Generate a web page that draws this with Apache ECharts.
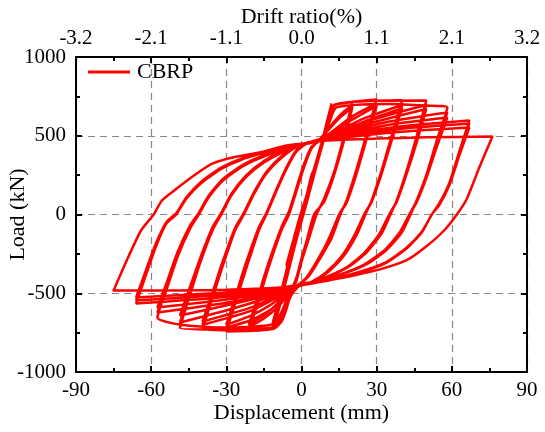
<!DOCTYPE html>
<html>
<head>
<meta charset="utf-8">
<script src="https://cdn.jsdelivr.net/npm/echarts@6/dist/echarts.min.js"></script>
<style>
html, body { margin: 0; padding: 0; background: #fff; }
#main { width: 545px; height: 432px; }
</style>
</head>
<body>
<div id="main"></div>
<script>
// displacement (mm), load (kN), cycle by cycle
var loop03 = [[0,0],[1.5,80],[3,150],[1.5,60],[0,-20],[-1.5,-90],[-3,-150],[-1.5,-60],[0,20],[1.5,90],[3,145],[1,40],[-1,-60],[-3,-145],[-1,-40],[0,10]];
var loop06 = [[2,110],[4,240],[6,330],[4,230],[2,100],[0,-20],[-2,-130],[-4,-250],[-6,-330],[-4,-220],[-2,-100],[0,20],[2,120],[4,250],[6,320],[3,170],[0,-10],[-3,-180],[-6,-320],[-3,-150],[0,0]];
var loop12 = [
  [3,150],[6,320],[8,430],[10,560],[12,705],[10,580],[7,380],[4,190],[1,30],[-1,-60],[-3,-200],[-5,-340],[-7,-470],[-9,-600],[-11.5,-720],
  [-9,-560],[-6,-360],[-3,-170],[0,0],[3,160],[6,330],[8,450],
  [10,560],[12,690],[9,500],[6,310],[3,130],[0,-40],[-3,-220],[-6,-410],[-9,-590],[-11.5,-705],
  [-8,-500],[-5,-300],[-2,-110],[1,60],[4,230],[7,400],
  [10,560],[12,675],[9,480],[5,250],[2,70],[-1,-100],[-4,-280],[-7,-460],[-9.5,-600],[-11.5,-690],
  [-8,-480],[-4,-230],[-1,-50],[2,110],[5,290],[8,440]
];
var loop20 = [
  [9,480],[11,590],[13,690],[16,705],[20.3,715],[17,500],[13,270],[9,100],[6,0],[3,-150],[0,-300],[-2,-420],[-4,-490],[-6,-600],[-8,-680],[-11,-725],[-16,-735],[-21,-740],
  [-17,-540],[-13,-330],[-8,-100],[-5,0],[-2,150],[1,300],[4,420],[7,470],
  [12,570],[16,640],[20.3,695],[17,480],[13,260],[9,90],[5.5,0],[3,-140],[0,-290],[-2,-410],[-4,-480],[-9,-580],[-15,-660],[-21,-715],
  [-17,-520],[-13,-310],[-8,-90],[-5,10],[-2,160],[1,310],[4,425],[7,470],
  [12,560],[16,625],[20.3,680],[17,470],[13,250],[9,80],[5,0],[2,-170],[0,-280],[-2,-400],[-4,-470],[-10,-570],[-15,-640],[-21,-700],
  [-17,-500],[-13,-300],[-8,-80],[-5,20],[-2,170],[1,320],[4,430],[8,475]
];
var loop30 = [
  [9,490],[11,590],[13,690],[20,715],[30,730],[26,510],[22,290],[18,90],[15.5,0],[12,-150],[7,-290],[3,-390],[-1,-450],
  [-4,-510],[-7,-620],[-10,-700],[-13,-728],[-20,-738],[-30,-743],
  [-26,-540],[-22,-340],[-17,-100],[-14,0],[-10,150],[-6,290],[-2,400],[2,450],[6,470],
  [10,500],[20,620],[30,705],[26,490],[22,270],[18,80],[15,0],[11,-150],[7,-280],[3,-385],[-1,-450],
  [-5,-500],[-12,-600],[-20,-670],[-30,-718],
  [-26,-520],[-22,-320],[-17,-90],[-14,5],[-10,155],[-6,295],[-2,405],[2,452],[6,470],
  [10,495],[20,600],[30,690],[26,480],[22,260],[18,75],[15,0],[11,-155],[6,-300],[2,-400],[-2,-455],
  [-6,-500],[-13,-580],[-20,-640],[-30,-700],
  [-26,-500],[-22,-300],[-17,-80],[-14,10],[-10,160],[-6,300],[-2,410],[2,455],[7,472]
];
var loop40 = [
  [9,490],[11,590],[13,695],[25,720],[40.2,725],[36,500],[32,280],[28,90],[25.5,0],[22,-130],[17,-260],[11,-360],[5,-425],[-1,-455],
  [-4,-510],[-7,-620],[-10,-700],[-13,-725],[-25,-735],[-39.5,-730],
  [-35.5,-530],[-31.5,-330],[-26.5,-100],[-23,0],[-19,130],[-14,260],[-8,360],[-2,430],[4,460],
  [10,495],[25,610],[40.2,695],[36,480],[32,270],[28,85],[25,0],[21,-135],[16,-265],[10,-365],[4,-428],[-2,-458],
  [-6,-495],[-20,-610],[-39.5,-700],
  [-35.5,-510],[-31.5,-310],[-26.5,-90],[-23,5],[-19,135],[-14,265],[-8,365],[-2,432],[4,462],
  [10,490],[25,590],[40.2,675],[36,470],[32,260],[28,80],[25,0],[21,-140],[16,-270],[10,-370],[4,-430],[-2,-460],
  [-6,-490],[-20,-590],[-39.5,-680],
  [-35.5,-495],[-31.5,-300],[-26.5,-85],[-23,10],[-19,140],[-14,270],[-8,370],[-2,435],[4,463]
];
var loop50 = [
  [9,490],[11,590],[13,695],[30,722],[49.8,724],[46,500],[42,280],[38,90],[35.5,0],[32,-120],[26,-240],[19,-330],[10,-400],[2,-440],[-3,-460],
  [-5,-520],[-8,-640],[-11,-710],[-14,-722],[-30,-730],[-48.5,-720],
  [-44.5,-510],[-40.5,-310],[-35.5,-100],[-32,0],[-28,120],[-22,240],[-15,330],[-7,400],[0,440],[6,465],
  [10,495],[30,610],[49.8,695],[46,480],[42,270],[38,85],[35,0],[31,-125],[25,-245],[18,-335],[9,-402],[1,-443],[-3,-462],
  [-8,-500],[-28,-600],[-48.5,-686],
  [-44.5,-490],[-40.5,-300],[-35.5,-90],[-32,5],[-28,125],[-22,245],[-15,335],[-7,405],[0,442],[6,466],
  [10,490],[30,590],[49.8,670],[46,460],[42,260],[38,80],[35,0],[31,-130],[25,-250],[18,-340],[9,-405],[1,-445],[-4,-465],
  [-9,-495],[-28,-570],[-48.5,-641],
  [-44.5,-460],[-40.5,-280],[-35.5,-80],[-32,10],[-28,130],[-22,250],[-15,340],[-7,408],[0,445],[6,467]
];
var loop58 = [
  [9,485],[11,580],[14,680],[35,702],[50,692],[58.2,680],[54,470],[50,260],[46,90],[43.5,0],[40,-115],[34,-225],[26,-315],[16,-380],[6,-425],[-2,-450],
  [-5,-510],[-8,-620],[-11,-690],[-14,-705],[-30,-718],[-48,-700],[-57.5,-654],
  [-53.5,-460],[-49.5,-270],[-44.5,-90],[-41,0],[-37,110],[-31,220],[-23,310],[-13,380],[-3,430],[3,455],
  [10,490],[35,590],[58.2,648],[54,450],[50,250],[46,85],[43,0],[39,-118],[33,-228],[25,-318],[15,-383],[5,-427],[-2,-452],
  [-9,-490],[-30,-560],[-57.5,-622],
  [-53.5,-440],[-49.5,-255],[-44.5,-80],[-41,5],[-37,115],[-31,225],[-23,315],[-13,384],[-3,432],[3,456],
  [10,485],[35,570],[58.2,616],[54,430],[50,240],[46,80],[43,0],[39,-120],[33,-230],[25,-320],[15,-385],[5,-430],[-2,-455],
  [-9,-485],[-30,-540],[-57.5,-590],
  [-53.5,-420],[-49.5,-240],[-44.5,-70],[-41,10],[-37,120],[-31,230],[-23,318],[-13,387],[-3,434],[3,457]
];
var loop67 = [
  [10,490],[40,560],[67,597],[63,400],[59,200],[55,70],[52,0],[48,-110],[42,-210],[34,-300],[24,-360],[12,-410],[0,-445],
  [-8,-480],[-35,-530],[-66,-565],
  [-62,-380],[-58,-200],[-54,-60],[-50,0],[-46,100],[-40,200],[-32,290],[-22,360],[-10,410],[0,445],
  [10,480],[40,545],[67,578],[63,390],[59,195],[55,65],[52,0],[48,-112],[42,-212],[34,-302],[24,-362],[12,-412],[0,-447],
  [-8,-475],[-35,-515],[-66,-546],
  [-62,-365],[-58,-190],[-54,-55],[-50,5],[-46,105],[-40,205],[-32,295],[-22,362],[-10,412],[0,447],
  [10,475],[40,525],[67,552],[63,375],[59,185],[55,60],[52,0],[48,-115],[42,-215],[34,-305],[24,-365],[12,-415],[0,-450],
  [-8,-470],[-35,-500],[-66,-527],
  [-62,-350],[-58,-180],[-54,-50],[-50,8],[-46,108],[-40,208],[-32,298],[-22,365],[-10,415],[0,450]
];
var loop76 = [
  [10,470],[30,482],[50,490],[76.2,495],[71,300],[66,100],[62,0],[57,-100],[50,-200],[42,-290],[32,-345],[20,-390],[8,-425],[0,-445],
  [-10,-465],[-30,-478],[-50,-482],[-75,-483],
  [-70,-300],[-64,-100],[-59,0],[-55.7,89],[-49.8,165],[-41.8,260],[-35.4,324],[-27.5,362],[-16.7,394],[-6,438],[0,450]
];

var driftLabels = ['-3.2', '-2.1', '-1.1', '0.0', '1.1', '2.1', '3.2'];

var cbrp = [].concat(loop03, loop06, loop12, loop20, loop30, loop40, loop50, loop58, loop67, loop76);

var font = '"Liberation Serif", "Times New Roman", serif';
var myChart = echarts.init(document.getElementById('main'));

var axisCommon = {
    type: 'value',
    nameMoveOverlap: false,
    axisLine: { show: true, onZero: false, lineStyle: { color: '#000', width: 2 } },
    axisTick: { show: true, inside: true, length: 6, lineStyle: { color: '#000', width: 2 } },
    minorTick: { show: true, splitNumber: 2, length: 4, lineStyle: { color: '#000', width: 2 } },
    axisLabel: { color: '#000', fontFamily: font, fontSize: 21, formatter: function (v) { return String(v); } },
    nameTextStyle: { color: '#000', fontFamily: font, fontSize: 22 }
};

myChart.setOption({
    animation: false,
    grid: { left: 76, right: 18, top: 57, bottom: 60, outerBoundsMode: 'none', containLabel: false },
    legend: {
        left: 83,
        top: 56,
        icon: 'rect',
        itemWidth: 42,
        itemHeight: 3,
        itemGap: 6,
        textStyle: { color: '#000', fontFamily: font, fontSize: 22, padding: [0, 0, 0, 2] },
        data: ['CBRP']
    },
    xAxis: [
        Object.assign({}, axisCommon, {
            position: 'bottom',
            min: -90, max: 90, interval: 30,
            name: 'Displacement (mm)',
            nameLocation: 'middle',
            nameGap: 30,
            axisLabel: Object.assign({}, axisCommon.axisLabel, { margin: 8 }),
            splitLine: { show: true, lineStyle: { color: '#888', width: 1.2, type: [7, 5] } }
        }),
        Object.assign({}, axisCommon, {
            position: 'top',
            min: -90, max: 90, interval: 30,
            name: 'Drift ratio(%)',
            nameLocation: 'middle',
            nameGap: 29,
            axisLabel: Object.assign({}, axisCommon.axisLabel, {
                margin: 8,
                formatter: function (v) { return driftLabels[Math.round((v + 90) / 30)]; }
            }),
            splitLine: { show: false }
        })
    ],
    yAxis: [
        Object.assign({}, axisCommon, {
            position: 'left',
            min: -1000, max: 1000, interval: 500,
            name: 'Load (kN)',
            nameLocation: 'middle',
            nameGap: 47,
            axisLabel: Object.assign({}, axisCommon.axisLabel, { margin: 10 }),
            splitLine: { show: true, lineStyle: { color: '#888', width: 1.2, type: [7, 5] } }
        }),
        Object.assign({}, axisCommon, {
            position: 'right',
            min: -1000, max: 1000, interval: 500,
            axisLabel: { show: false },
            splitLine: { show: false }
        })
    ],
    series: [{
        name: 'CBRP',
        type: 'line',
        xAxisIndex: 0,
        yAxisIndex: 0,
        symbol: 'none',
        smooth: 0.2,
        lineStyle: { color: '#ff0000', width: 2.5 },
        itemStyle: { color: '#ff0000' },
        data: cbrp
    }]
});
</script>
</body>
</html>
